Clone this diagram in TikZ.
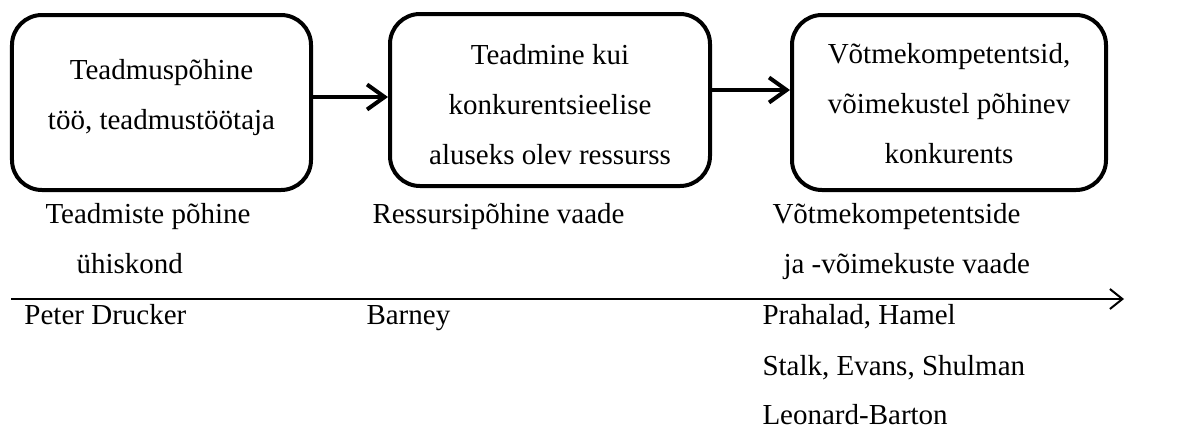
\documentclass[tikz,border=0pt]{standalone}
\usepackage{fontspec}
\setmainfont{Liberation Serif}
\usetikzlibrary{arrows.meta}
\begin{document}
\begin{tikzpicture}[x=0.4pt,y=-0.4pt,
  stage/.style={draw, line width=1.6pt, rounded corners=12pt, inner sep=0pt},
  stagetext/.style={align=center, inner sep=0pt, font=\fontsize{11.6}{20}\selectfont},
  flow/.style={line width=1.6pt, -{Straight Barb[length=7pt,width=10pt,line width=1.6pt]}},
  axis/.style={line width=0.8pt, -{Straight Barb[length=5pt,width=8pt,line width=0.8pt]}},
  lbl/.style={anchor=base west, inner sep=0pt, font=\fontsize{11.6}{14}\selectfont}]
\useasboundingbox (0,0) rectangle (1188,427);

% stages
\node[stage, minimum width=119.6pt, minimum height=70pt] (b1) at (161.5,102.5) {};
\node[stage, minimum width=128pt, minimum height=68.8pt] (b2) at (550,100) {};
\node[stage, minimum width=125.6pt, minimum height=70pt] (b3) at (949,102.5) {};

\node[stagetext] (s1) at ([yshift=2pt]b1.center)
  {Teadmuspõhine\\töö, teadmustöötaja};
\node[stagetext] (s2) at ([yshift=-2pt]b2.center)
  {Teadmine kui\\konkurentsieelise\\aluseks olev ressurss};
\node[stagetext] (s3) at ([yshift=-0.4pt]b3.center)
  {Võtmekompetentsid,\\võimekustel põhinev\\konkurents};

\draw[flow] (b1.east |- 0,97) -- (b2.west |- 0,97);
\draw[flow] (b2.east |- 0,90) -- (b3.west |- 0,90);

% time axis
\coordinate (t0) at (11,299);
\coordinate (t1) at (1124,299);
\draw[axis] (t0) -- (t1);

% views above the axis
\node[lbl] (v1a) at (45,223) {Teadmiste põhine};
\node[lbl] (v1b) at (76,273) {ühiskond};
\node[lbl] (v2) at (372,223) {Ressursipõhine vaade};
\node[lbl] (v3a) at (772,223) {Võtmekompetentside};
\node[lbl] (v3b) at (783,273) {ja -võimekuste vaade};

% authors below the axis
\node[lbl] (a1) at (24,324) {Peter Drucker};
\node[lbl] (a2) at (366,324) {Barney};
\node[lbl] (a3) at (762,324) {Prahalad, Hamel};
\node[lbl] (a4) at (762,375) {Stalk, Evans, Shulman};
\node[lbl] (a5) at (762,424) {Leonard-Barton};
\end{tikzpicture}
\end{document}
